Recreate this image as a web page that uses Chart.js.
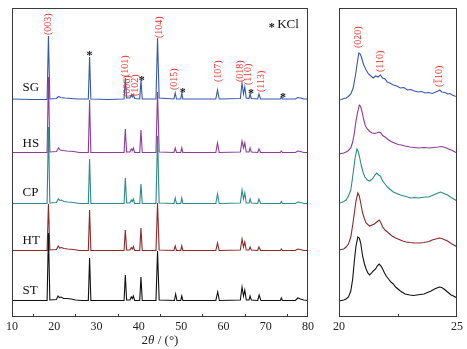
<!DOCTYPE html>
<html>
<head>
<meta charset="utf-8">
<script src="https://cdn.jsdelivr.net/npm/chart.js@4/dist/chart.umd.min.js"></script>
<style>
    body { margin: 0; background: #fff; }
    #wrap { position: relative; width: 467px; height: 349px; overflow: hidden; background: #fff; }
    #wideChart { position: absolute; left: 0; top: 0; }
    #narrowChart { position: absolute; left: 330px; top: 0; }
</style>
</head>
<body>
<div id="wrap">
    <canvas id="wideChart" width="320" height="349"></canvas>
    <canvas id="narrowChart" width="137" height="349"></canvas>
</div>
<script>
// volgorde: onderste patroon eerst, zodat het bovenop getekend wordt
const traceNames = ['ST', 'HT', 'CP', 'HS', 'SG'];
const traceColors = ['#111111', '#8c2a2a', '#2f8a8a', '#8e3b9c', '#3659ad'];
const offsets = [16, 66, 113, 164, 217];

// 2theta 10-80, relatieve intensiteit
const stWide = [[10,0.5],[15,0.5],[18.3,0.5],[18.62,68],[18.95,1],[20.5,1.5],[20.9,5],[21.2,3.5],[21.6,4],[22.2,2.5],[23,2.5],[24,2],[25,1],[26.5,0.5],[28.05,0.5],[28.35,43],[28.65,0.5],[33,0.5],[36.5,0.5],[36.8,26],[37.1,1],[37.9,1],[38.2,4],[38.45,2.5],[38.7,5],[39,0.5],[40.2,0.5],[40.5,24],[40.8,0.5],[44.05,0.5],[44.42,50],[44.8,1],[48.4,0.5],[48.7,7],[49,0.5],[49.9,0.5],[50.15,5],[50.4,0.5],[58.2,0.5],[58.65,9],[59.05,0.5],[64,1],[64.4,14],[64.75,5],[65.05,11],[65.4,1],[66.05,1],[66.3,5],[66.6,1],[68.1,0.5],[68.45,6],[68.85,0.5],[73.45,0.5],[73.7,3],[73.95,0.5],[77,0.5],[77.6,3],[78.2,2],[79,1],[80,0.5]];
const htWide = [[10,0.5],[15,0.5],[18.3,0.5],[18.62,47],[18.95,1],[20.5,1.5],[20.95,5],[21.3,3],[21.7,3.5],[22.3,2.5],[23.2,2],[24.5,1.5],[26,0.5],[28.05,0.5],[28.35,41],[28.65,0.5],[33,0.5],[36.5,0.5],[36.8,21],[37.1,1],[37.9,1],[38.2,3.5],[38.45,2],[38.7,4.5],[39,0.5],[40.2,0.5],[40.5,23],[40.8,0.5],[44.05,0.5],[44.42,48],[44.8,1],[48.3,0.5],[48.6,5],[48.9,0.5],[49.9,0.5],[50.15,5],[50.4,0.5],[58.2,0.5],[58.6,8],[59,0.5],[64,1],[64.4,12],[64.75,4],[65.05,9],[65.4,1],[66.05,1],[66.3,4],[66.6,1],[68.1,0.5],[68.4,4],[68.8,0.5],[73.45,0.5],[73.7,2],[73.95,0.5],[77,0.5],[77.6,2],[78.2,1.5],[79,0.5],[80,0.5]];
const cpWide = [[10,0.5],[15,0.5],[18.3,0.5],[18.62,77],[18.95,1],[20.5,1.5],[20.95,5],[21.3,3.5],[21.7,4],[22.3,2.5],[23.2,2],[24.5,1.5],[26,0.5],[28.05,0.5],[28.35,45],[28.65,0.5],[33,0.5],[36.5,0.5],[36.8,26],[37.1,1],[37.9,1],[38.2,4],[38.45,2.5],[38.7,5],[39,0.5],[40.2,0.5],[40.5,20],[40.8,0.5],[44.05,0.5],[44.42,68],[44.8,1],[48.3,0.5],[48.6,6],[48.9,0.5],[49.9,0.5],[50.15,6],[50.4,0.5],[58.2,0.5],[58.6,10],[59,0.5],[64,1],[64.4,14],[64.75,5],[65.05,11],[65.4,1],[66.05,1],[66.3,5],[66.6,1],[68.1,0.5],[68.4,5],[68.8,0.5],[73.45,0.5],[73.7,2.5],[73.95,0.5],[77,0.5],[77.6,2],[78.2,1.5],[79,0.5],[80,0.5]];
const hsWide = [[10,0.5],[15,0.5],[18.3,0.5],[18.62,76],[18.95,1],[20.5,1.5],[21,5],[21.4,3],[22,2.5],[23,2],[24.5,1.5],[26,0.5],[28.05,0.5],[28.35,53],[28.65,0.5],[33,0.5],[36.5,0.5],[36.8,24],[37.1,1],[37.9,1],[38.2,4],[38.45,2.5],[38.7,5],[39,0.5],[40.2,0.5],[40.5,23],[40.8,0.5],[44.05,0.5],[44.42,61],[44.8,1],[48.3,0.5],[48.6,5],[48.9,0.5],[49.9,0.5],[50.15,5],[50.4,0.5],[58.2,0.5],[58.6,10],[59,0.5],[64,1],[64.4,12],[64.75,5],[65.05,10],[65.4,1],[66.05,1],[66.3,5],[66.6,1],[68.1,0.5],[68.4,4],[68.8,0.5],[73.45,0.5],[73.7,2],[73.95,0.5],[77,0.5],[77.6,2],[78.2,1.5],[79,0.5],[80,0.5]];
const sgWide = [[10,1],[15,0.5],[18.3,0.5],[18.62,64],[18.95,1],[20.5,1.5],[21,3.5],[21.5,2.5],[22.5,2],[24,1.5],[25.5,1],[28.05,1],[28.35,43],[28.65,1],[33,0.5],[36.5,1],[36.8,22],[37.1,2],[37.9,2],[38.2,5],[38.45,3],[38.7,5.5],[39,1.5],[40.2,1],[40.5,20],[40.8,1],[44.05,1],[44.42,62],[44.8,2],[48.3,1],[48.6,7],[48.9,1],[49.9,1],[50.15,7],[50.4,1],[58.2,1],[58.6,10],[59,1],[64,1.5],[64.4,17],[64.75,6],[65.05,13],[65.4,2],[66.05,1.5],[66.3,6],[66.6,1.5],[68.1,1],[68.4,6],[68.8,1],[73.45,1],[73.7,3],[73.95,1],[77,1],[77.6,2.5],[78.2,2],[79,1],[80,1]];

// 2theta 20-25
const stNarrow = [[20,0],[20.1,0.5],[20.2,1],[20.3,2],[20.4,4],[20.5,10],[20.58,22],[20.65,40],[20.72,55],[20.8,64],[20.86,63],[20.92,58],[21,45],[21.08,37],[21.15,32],[21.22,28],[21.3,26],[21.38,28],[21.45,30],[21.55,32],[21.62,35],[21.7,37],[21.78,35],[21.85,32],[21.93,28],[22,25],[22.1,22],[22.2,19],[22.3,17],[22.4,14],[22.5,12],[22.6,10],[22.7,8.5],[22.8,7],[22.9,6.5],[23,6],[23.15,5.5],[23.3,6],[23.45,6.5],[23.6,7],[23.75,8.5],[23.9,10],[24.05,12],[24.15,13],[24.25,14],[24.35,13.5],[24.45,12],[24.55,10],[24.65,8],[24.75,6],[24.85,5],[25,3]];
const htNarrow = [[20,1],[20.1,1.5],[20.2,2],[20.3,4],[20.4,7],[20.5,14],[20.58,26],[20.65,38],[20.72,50],[20.8,58],[20.86,55],[20.92,48],[21,38],[21.08,32],[21.15,28],[21.22,26.5],[21.3,25],[21.4,26],[21.5,27],[21.6,29],[21.7,31],[21.78,28],[21.85,24],[21.95,21],[22.05,19],[22.15,17],[22.25,15],[22.4,13],[22.55,11.5],[22.7,10],[22.85,9],[23,8.5],[23.2,8],[23.4,8],[23.6,8.5],[23.8,9.5],[23.95,11],[24.1,12],[24.25,13],[24.35,12.5],[24.45,11.5],[24.6,10],[24.75,7.5],[24.9,5.5],[25,4]];
const cpNarrow = [[20,1],[20.1,1.5],[20.2,2.5],[20.3,4],[20.4,8],[20.5,14],[20.56,24],[20.62,35],[20.69,47],[20.76,55],[20.82,52],[20.88,46],[20.95,38],[21.03,31],[21.1,27],[21.2,24],[21.3,23],[21.38,24.5],[21.45,26],[21.52,29],[21.6,31],[21.68,29],[21.75,28],[21.85,23],[21.95,20],[22.05,17],[22.15,15],[22.3,12],[22.45,10.5],[22.6,9],[22.75,8],[22.9,7],[23.05,6],[23.2,6.5],[23.35,6],[23.5,6.5],[23.65,7],[23.8,7],[23.95,8.5],[24.1,10],[24.2,11],[24.3,12],[24.4,11],[24.5,10],[24.6,9],[24.75,6.5],[24.9,4.5],[25,3]];
const hsNarrow = [[20,-1],[20.1,-0.5],[20.2,0],[20.3,1],[20.4,2.5],[20.5,5],[20.58,11],[20.65,20],[20.72,32],[20.8,42],[20.86,48],[20.91,47],[20.97,42],[21.05,33],[21.12,27],[21.2,24],[21.3,21.5],[21.4,20],[21.5,19.5],[21.6,20],[21.7,21],[21.78,20],[21.85,17.5],[21.95,16],[22.05,14],[22.2,11.5],[22.35,10],[22.5,8.5],[22.65,8],[22.8,7],[23,6],[23.2,5.5],[23.4,5],[23.6,5.5],[23.8,5],[24,5.5],[24.2,6],[24.35,6.5],[24.5,5.5],[24.65,4],[24.8,2.5],[25,0]];
const sgNarrow = [[20,0],[20.1,0.5],[20.2,1.5],[20.3,2],[20.4,3.5],[20.5,6],[20.6,12],[20.7,25],[20.78,38],[20.84,47],[20.9,46],[20.96,42],[21.05,35],[21.15,30],[21.25,26],[21.35,24],[21.45,22],[21.55,24],[21.65,23],[21.75,25],[21.85,22],[21.95,21],[22.05,18],[22.15,17],[22.3,15],[22.45,14],[22.6,12],[22.75,12.5],[22.9,10],[23.05,10.5],[23.2,9],[23.35,8],[23.5,8.5],[23.65,7],[23.8,7.5],[23.95,6.5],[24.1,8],[24.2,9],[24.27,10],[24.35,8],[24.5,7.5],[24.6,6],[24.7,6.5],[24.8,5],[24.9,4],[25,3.5]];

const wideSeries = [stWide, htWide, cpWide, hsWide, sgWide];
const narrowSeries = [stNarrow, htNarrow, cpNarrow, hsNarrow, sgNarrow];

const wideTicks = [10, 20, 30, 40, 50, 60, 70, 80];
const wideMinorTicks = [15, 25, 35, 45, 55, 65, 75];
const narrowTicks = [20, 25];
const narrowMinorTicks = [22.5];

// reflecties (2theta, hoogte onderkant tekst)
const widePeaks = [
    { text: '(003)', x: 18.6, y: 282 },
    { text: '(101)', x: 36.7, y: 240 },
    { text: '(006)', x: 37.4, y: 220 },
    { text: '(102)', x: 39.1, y: 221 },
    { text: '(104)', x: 44.8, y: 279 },
    { text: '(015)', x: 48.5, y: 227 },
    { text: '(107)', x: 58.8, y: 235 },
    { text: '(018)', x: 63.9, y: 235 },
    { text: '(110)', x: 65.8, y: 232 },
    { text: '(113)', x: 68.9, y: 225 }
];
const narrowPeaks = [
    { text: '(020)', x: 20.84, y: 269 },
    { text: '(110)', x: 21.76, y: 245 },
    { text: '(110)', x: 24.24, y: 230, bar: true }
];
const kclStars = [[28.3, 264], [40.7, 239], [50.4, 227], [66.5, 226], [74.1, 222]];
const nameLevels = [26, 76, 124, 173, 229];

const serif = '"Liberation Serif", "Times New Roman", serif';
const labelColor = '#e8352f';

const xrdMarks = {
    id: 'xrdMarks',
    afterDraw(chart, args, opts) {
        const { ctx, chartArea: a, scales: { x, y } } = chart;
        ctx.save();

        // kader
        ctx.strokeStyle = '#3a3a3a';
        ctx.lineWidth = 1;
        ctx.strokeRect(Math.round(a.left) + 0.5, Math.round(a.top) + 0.5, Math.round(a.width) - 1, Math.round(a.height) - 1);

        // tickmarks naar binnen
        ctx.beginPath();
        opts.minor.forEach(v => {
            const px = Math.round(x.getPixelForValue(v)) + 0.5;
            ctx.moveTo(px, a.bottom);
            ctx.lineTo(px, a.bottom - 3);
        });
        ctx.stroke();

        // reflectie labels
        ctx.fillStyle = labelColor;
        ctx.font = '10px ' + serif;
        opts.peaks.forEach(p => {
            ctx.save();
            ctx.translate(x.getPixelForValue(p.x), y.getPixelForValue(p.y));
            ctx.rotate(-Math.PI / 2);
            ctx.textAlign = 'left';
            ctx.textBaseline = 'middle';
            ctx.fillText(p.text, 0, 0);
            if (p.bar) {
                const w0 = ctx.measureText('(').width;
                const w1 = ctx.measureText('1').width;
                ctx.fillRect(w0 + 0.5, -5.5, w1 - 1, 0.8);
            }
            ctx.restore();
        });

        // KCl sterretjes
        ctx.fillStyle = '#111';
        ctx.font = 'bold 12px ' + serif;
        ctx.textAlign = 'center';
        ctx.textBaseline = 'middle';
        (opts.stars || []).forEach(s => {
            ctx.fillText('*', x.getPixelForValue(s[0]), y.getPixelForValue(s[1]) + 3);
        });

        if (opts.legend) {
            ctx.fillText('*', x.getPixelForValue(71.4), y.getPixelForValue(292) + 3);
            ctx.font = '13px ' + serif;
            ctx.textAlign = 'left';
            ctx.fillText('KCl', x.getPixelForValue(72.7), y.getPixelForValue(292));
        }

        // namen
        if (opts.names) {
            ctx.font = '13px ' + serif;
            ctx.textAlign = 'left';
            traceNames.forEach((n, i) => {
                ctx.fillText(n, x.getPixelForValue(12.5), y.getPixelForValue(nameLevels[i]));
            });
        }

        // as titel 2θ / (°)
        if (opts.title) {
            const parts = [['2', ''], ['θ', 'italic '], [' / (°)', '']];
            let total = 0;
            parts.forEach(p => { ctx.font = p[1] + '13px ' + serif; total += ctx.measureText(p[0]).width; });
            let cx = (a.left + a.right) / 2 - total / 2;
            ctx.textAlign = 'left';
            ctx.textBaseline = 'alphabetic';
            ctx.fillStyle = '#222';
            parts.forEach(p => {
                ctx.font = p[1] + '13px ' + serif;
                ctx.fillText(p[0], cx, 344);
                cx += ctx.measureText(p[0]).width;
            });
        }
        ctx.restore();
    }
};

function buildDatasets(series) {
    return series.map((pts, i) => ({
        label: traceNames[i],
        data: pts.map(p => ({ x: p[0], y: p[1] + offsets[i] })),
        borderColor: traceColors[i],
        borderWidth: 1.1,
        pointRadius: 0,
        tension: 0,
        fill: false
    }));
}

function makeChart(id, series, min, max, ticks, pad, marks) {
    const ctx = document.getElementById(id).getContext('2d');
    return new Chart(ctx, {
        type: 'line',
        data: { datasets: buildDatasets(series) },
        options: {
            responsive: false,
            animation: false,
            devicePixelRatio: 1,
            layout: { padding: pad },
            plugins: { legend: { display: false }, tooltip: { enabled: false }, xrdMarks: marks },
            scales: {
                x: {
                    type: 'linear',
                    min: min,
                    max: max,
                    afterBuildTicks: s => { s.ticks = ticks.map(v => ({ value: v })); },
                    afterFit: s => { s.height = 32; },
                    grid: { display: false, drawTicks: false },
                    border: { display: false },
                    ticks: { padding: 3, color: '#222', font: { family: serif, size: 12 }, maxRotation: 0 }
                },
                y: { display: false, min: 0, max: 309 }
            }
        },
        plugins: [xrdMarks]
    });
}

document.addEventListener('DOMContentLoaded', () => {
    makeChart('wideChart', wideSeries, 10, 80, wideTicks,
        { left: 12, right: 12, top: 8, bottom: 0 },
        { minor: wideMinorTicks, peaks: widePeaks, stars: kclStars, legend: true, names: true, title: true });
    makeChart('narrowChart', narrowSeries, 20, 25, narrowTicks,
        { left: 8, right: 10, top: 8, bottom: 0 },
        { minor: narrowMinorTicks, peaks: narrowPeaks });
});
</script>
</body>
</html>
